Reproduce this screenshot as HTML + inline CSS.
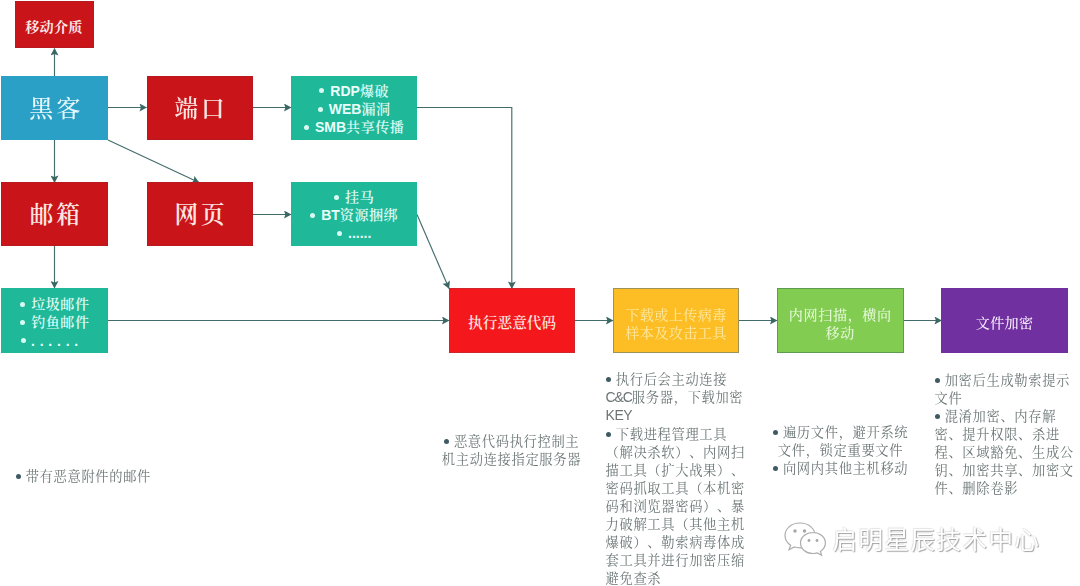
<!DOCTYPE html>
<html lang="zh-CN">
<head>
<meta charset="utf-8">
<title>勒索病毒攻击流程</title>
<style>
html,body{margin:0;padding:0;background:#fff;}
body{width:1080px;height:586px;position:relative;overflow:hidden;
  font-family:"Liberation Sans","Noto Serif CJK SC",serif;text-spacing-trim:space-all;font-kerning:none;}
#stage{position:absolute;left:0;top:0;width:1080px;height:586px;overflow:hidden;filter:blur(0.55px);}
.box{position:absolute;box-sizing:border-box;color:#fff;display:flex;align-items:center;justify-content:center;text-align:center;}
.red{background:#c9141a;box-shadow:inset 0 0 0 1px #b7191e;}
.blue{background:#2ba0c6;}
.teal{background:#1fb898;}
.big{font-size:24px;font-weight:500;letter-spacing:3.2px;padding:0 0 3.5px 3.2px;color:#e6f7fb;}
.red.big{font-weight:600;color:#fbe6e2;font-size:23.6px;letter-spacing:3px;padding:0 0 2.2px 3px;}
.list{font-size:14.1px;letter-spacing:0.5px;line-height:18.2px;font-weight:600;color:#dcfaf5;padding-top:2px;}
.list b{font-weight:700;font-size:14px;color:#eafffb;letter-spacing:0;}
.dot{display:inline-block;width:5px;height:5px;border-radius:50%;background:#d9faf3;vertical-align:middle;margin:-2px 6px 0 0;}
.note{position:absolute;font-size:13.3px;letter-spacing:0.63px;line-height:18.05px;color:#6c7676;font-weight:400;white-space:nowrap;margin-top:1px;}
.note i{font-style:normal;font-size:14px;letter-spacing:-1.1px;font-weight:400;color:#6c7474;line-height:0;}
.note .d{display:inline-block;width:5px;height:5px;border-radius:50%;background:#3f5a63;vertical-align:middle;margin:-2px 4.6px 0 0.6px;}
svg{position:absolute;left:0;top:0;}
#wm{position:absolute;left:832.5px;top:521.5px;letter-spacing:1.5px;font-family:"Liberation Sans","Noto Sans CJK SC",sans-serif;font-size:24.5px;line-height:38px;color:#fff;font-weight:400;white-space:nowrap;
 text-shadow:1px 1px 1px rgba(0,0,0,.34),-1px -1px 1px rgba(0,0,0,.08),0 0 2px rgba(0,0,0,.14);}
</style>
</head>
<body>
<div id="stage">

<svg width="1080" height="586" viewBox="0 0 1080 586">
  <defs>
    <marker id="ah" viewBox="0 0 8 8" refX="7.6" refY="4" markerWidth="8" markerHeight="8" markerUnits="userSpaceOnUse" orient="auto">
      <path d="M0.6,0 L8,4 L0.6,8 L2,4 Z" fill="#3a6763" stroke="none"/>
    </marker>
  </defs>
  <g fill="none" stroke="#436d6a" stroke-width="1.15" marker-end="url(#ah)">
    <path d="M54.5,76 L54.5,48.5"/>
    <path d="M108,107.5 L146.5,107.5"/>
    <path d="M54.5,140 L54.5,182.5"/>
    <path d="M108,140 L199,182.5"/>
    <path d="M252.5,107.5 L291,107.5"/>
    <path d="M252.5,214.5 L291,214.5"/>
    <path d="M54.5,246 L54.5,288"/>
    <path d="M417,107.5 L511.8,107.5 L511.8,288.5"/>
    <path d="M417,214.5 L449,288.5"/>
    <path d="M108,320.5 L449,320.5"/>
    <path d="M575,320.5 L613,320.5"/>
    <path d="M739,320.5 L777,320.5"/>
    <path d="M903.5,320.5 L941.5,320.5"/>
  </g>
</svg>

<div class="box red" style="left:15.3px;top:1px;width:78.9px;height:47.4px;font-size:14.2px;font-weight:700;letter-spacing:0.2px;color:#fbe9e6;padding:2px 1.5px 0 0;">移动介质</div>
<div class="box blue big" style="left:1.3px;top:76.2px;width:107.1px;height:63.5px;">黑客</div>
<div class="box red big" style="left:146.6px;top:76.2px;width:106px;height:63.4px;">端口</div>
<div class="box red big" style="left:1.3px;top:182.4px;width:107.1px;height:63.8px;">邮箱</div>
<div class="box red big" style="left:146.6px;top:182.4px;width:106px;height:63.8px;">网页</div>

<div class="box teal list" style="left:291.2px;top:76.2px;width:126px;height:63.5px;"><div><span class="dot"></span><b>RDP</b>爆破<br><span class="dot"></span><b>WEB</b>漏洞<br><span class="dot"></span><b>SMB</b>共享传播</div></div>
<div class="box teal list" style="left:291.2px;top:182.2px;width:126px;height:64.3px;"><div><span class="dot"></span>挂马<br><span class="dot"></span><b>BT</b>资源捆绑<br><span class="dot"></span><b>......</b></div></div>
<div class="box teal list" style="left:1.3px;top:288.2px;width:107.1px;height:64.8px;padding-top:4px;"><div><span class="dot"></span>垃圾邮件<br><span class="dot"></span>钓鱼邮件<br><span class="dot" style="margin-left:-10px;margin-right:5px;"></span><b style="letter-spacing:0.45px">. . . . . .</b></div></div>

<div class="box" style="left:449.2px;top:288px;width:126px;height:65px;padding-top:1.5px;background:#f4181d;box-shadow:inset 0 0 0 1px #d0252b;font-size:14.6px;font-weight:600;letter-spacing:0.1px;color:#fde4df;">执行恶意代码</div>
<div class="box" style="left:613px;top:288px;width:126px;height:65px;background:#fcbe24;border:1px solid #9d9359;font-size:14.1px;letter-spacing:0.4px;line-height:18px;color:#fdeaa6;font-weight:400;padding-top:7px;">下载或上传病毒<br>样本及攻击工具</div>
<div class="box" style="left:777px;top:288px;width:126.6px;height:65px;background:#81cc51;border:1px solid #5e9a52;font-size:14.1px;letter-spacing:0.6px;line-height:18px;color:#e6f8d8;font-weight:500;padding-top:7px;">内网扫描，横向<br>移动</div>
<div class="box" style="left:941.4px;top:288px;width:126.4px;height:65px;background:#7030a0;font-size:14.1px;letter-spacing:0.3px;font-weight:500;color:#f4eafa;padding-top:2px;">文件加密</div>

<div class="note" style="left:431.5px;width:160px;text-align:center;top:432.3px;"><span class="d"></span>恶意代码执行控制主<br>机主动连接指定服务器</div>
<div class="note" style="left:15.5px;top:467.2px;"><span class="d"></span>带有恶意附件的邮件</div>

<div class="note" style="left:605.6px;top:370.4px;"><span class="d"></span>执行后会主动连接<br><i>C&amp;C</i>服务器，下载加密<br><i style="letter-spacing:-0.5px">KEY</i><br><span class="d"></span>下载进程管理工具<br>（解决杀软）、内网扫<br>描工具（扩大战果）、<br>密码抓取工具（本机密<br>码和浏览器密码）、暴<br>力破解工具（其他主机<br>爆破）、勒索病毒体成<br>套工具并进行加密压缩<br>避免查杀</div>

<div class="note" style="left:760.5px;width:160px;text-align:center;top:423px;"><span class="d"></span>遍历文件，避开系统<br>文件，锁定重要文件<br><span class="d"></span>向网内其他主机移动</div>

<div class="note" style="left:934.5px;top:370.8px;"><span class="d"></span>加密后生成勒索提示<br>文件<br><span class="d"></span>混淆加密、内存解<br>密、提升权限、杀进<br>程、区域豁免、生成公<br>钥、加密共享、加密文<br>件、删除卷影</div>

<svg width="1080" height="586" viewBox="0 0 1080 586" style="pointer-events:none">
  <g fill="#fff" stroke="#adadad" stroke-width="1.2">
    <path d="M800,523 c-8.500,0 -15,5.500 -15,12.500 c0,4 2.200,7.400 5.600,9.700 l-1.600,4.600 l5.400,-2.800 c1.800,0.500 3.600,0.800 5.600,0.800 c8.500,0 15,-5.500 15,-12.500 c0,-6.800 -6.500,-12.300 -15,-12.300 z"/>
    <path d="M813,532.500 c-7,0 -12.500,4.700 -12.500,10.500 c0,5.800 5.500,10.500 12.500,10.500 c1.500,0 3,-0.200 4.300,-0.600 l4.300,2.300 l-1.200,-3.800 c3,-2 5,-5 5,-8.400 c0,-5.800 -5.600,-10.500 -12.400,-10.500 z"/>
  </g>
  <g fill="#a6a6a6"><circle cx="795" cy="531" r="1.700"/><circle cx="804.500" cy="531" r="1.700"/><circle cx="809" cy="540.500" r="1.400"/><circle cx="817" cy="540.500" r="1.400"/></g>
</svg>
<div id="wm">启明星辰技术中心</div>

</div>
</body>
</html>
